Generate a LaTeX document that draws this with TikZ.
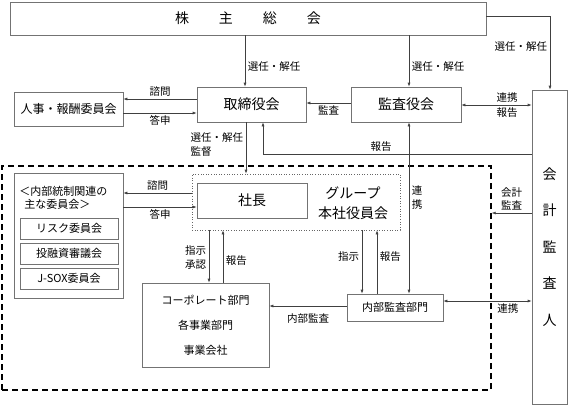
\documentclass[tikz,border=0pt]{standalone}
\usepackage{fontspec}
\setmainfont{Noto Sans CJK JP}
\usetikzlibrary{arrows.meta, positioning}

\begin{document}
\begin{tikzpicture}[x=1pt, y=-1pt, >={Latex[length=4pt,width=3pt]}, line width=0.6pt,
  box/.style={draw=black!55, rectangle, inner sep=0pt, font=\fontsize{14}{16}\selectfont},
  small/.style={font=\fontsize{11}{13}\selectfont},
  lbl/.style={font=\fontsize{10.5}{14}\selectfont, inner sep=2.5pt, align=center},
  arr/.style={->, draw=black!75},
  both/.style={<->, draw=black!75}]

\useasboundingbox (0,0) rectangle (569,405);

% Boxes at the top
\node[box, minimum width=476pt, minimum height=33pt] (gm) at (248,18.5) {株\hspace{30pt}主\hspace{30pt}総\hspace{30pt}会};
\node[box, small, font=\fontsize{12}{14}\selectfont, minimum width=109pt, minimum height=34pt] (hr) at (68.5,109) {人事・報酬委員会};
\node[box, minimum width=109pt, minimum height=35pt] (bod) at (251.5,104.5) {取締役会};
\node[box, minimum width=110pt, minimum height=35pt] (kab) at (406,104.5) {監査役会};
\node[box, align=center, font=\fontsize{14}{36.5}\selectfont, minimum width=35pt, minimum height=314pt] (ext) at (549.5,247) {会\\計\\監\\査\\人};

% Internal control area
\node[draw, line width=1.3pt, dash pattern=on 6pt off 4pt, inner sep=0pt, minimum width=489pt, minimum height=224pt] (ic) at (246.5,278) {};
\node[draw=black!60, dotted, inner sep=0pt, minimum width=208pt, minimum height=56pt] (grp) at (296,202) {};
\node[box, minimum width=110pt, minimum height=35pt] (pres) at (252,200.5) {社長};
\node[align=center, font=\fontsize{14}{20}\selectfont] (hq) at (353,203) {グループ\\本社役員会};

% Committees
\node[box, minimum width=109pt, minimum height=125pt] (cm) at (68.5,235.5) {};
\node[small, align=left, anchor=west, inner sep=1pt] (cmh) at (18,198) {＜内部統制関連の\\\hspace{5pt}主な委員会＞};
\node[box, small, minimum width=98pt, minimum height=21pt] (risk) at (69,228.5) {リスク委員会};
\node[box, small, minimum width=98pt, minimum height=21pt, below=3.5pt of risk] (inv) {投融資審議会};
\node[box, small, minimum width=98pt, minimum height=21pt, below=3.5pt of inv] (jsox) {J-SOX委員会};

% Lower boxes
\node[box, align=center, font=\fontsize{11}{25}\selectfont, minimum width=127pt, minimum height=84pt] (corp) at (205.5,325) {コーポレート部門\\各事業部門\\事業会社};
\node[box, small, minimum width=96pt, minimum height=27pt] (ia) at (395,307.5) {内部監査部門};

% From the general meeting
\draw[arr] ([xshift=-6.5pt]bod.north |- gm.south) -- node[lbl, right, pos=0.6] {選任・解任} ([xshift=-6.5pt]bod.north);
\draw[arr] ([xshift=3pt]kab.north |- gm.south) -- node[lbl, right, pos=0.6] {選任・解任} ([xshift=3pt]kab.north);
\draw[arr] ([yshift=2.5pt]gm.east) -| node[lbl, left, pos=0.71] {選任・解任} ([xshift=0.5pt]ext.north);

% Board and committees
\draw[arr] ([yshift=5.5pt]bod.west) -- node[lbl, above] {諮問} ([yshift=5.5pt]bod.west -| hr.east);
\draw[arr] ([yshift=-4pt]hr.east) -- node[lbl, below] {答申} ([yshift=-4pt]hr.east -| bod.west);
\draw[arr] ([yshift=1.5pt]kab.west) -- node[lbl, below] {監査} ([yshift=1.5pt]kab.west -| bod.east);
\draw[both] ([yshift=-0.5pt]kab.east) -- node[lbl, above, pos=0.65] {連携} node[lbl, below, pos=0.65] {報告} ([yshift=-0.5pt]kab.east -| ext.west);
\draw[arr] ([yshift=93pt]ext.west) -| node[lbl, above, pos=0.28] {報告} ([xshift=11.5pt]bod.south);
\draw[arr] ([xshift=-5.5pt]bod.south) -- node[lbl, left, align=left, pos=0.44] {選任・解任\\監督} ([xshift=-5.5pt]bod.south |- grp.north);

% President and committees
\draw[arr] ([yshift=9pt]grp.west) -- node[lbl, above] {諮問} ([yshift=9pt]grp.west -| cm.east);
\draw[arr] ([yshift=-6.5pt]pres.west -| cm.east) -- node[lbl, below] {答申} ([yshift=-6.5pt]pres.west);

% Group and departments
\draw[arr] ([xshift=3.5pt]corp.north |- grp.south) -- node[lbl, left, pos=0.52] {指示\\承認} ([xshift=3.5pt]corp.north);
\draw[arr] ([xshift=17.5pt]corp.north) -- node[lbl, right, pos=0.43] {報告} ([xshift=17.5pt]corp.north |- grp.south);
\draw[arr] ([xshift=-33pt]ia.north |- grp.south) -- node[lbl, left, pos=0.42] {指示} ([xshift=-33pt]ia.north);
\draw[arr] ([xshift=-18pt]ia.north) -- node[lbl, right, pos=0.58] {報告} ([xshift=-18pt]ia.north |- grp.south);
\draw[both] ([xshift=3pt]kab.south) -- node[lbl, right, pos=0.44] {連\\携} ([xshift=3pt]kab.south |- ia.north);
\draw[arr] ([yshift=1.5pt]ia.west) -- node[lbl, below=5pt] {内部監査} ([yshift=1.5pt]ia.west -| corp.east);
\draw[both] ([yshift=6.5pt]ia.east) -- node[lbl, below, pos=0.73] {連携} ([yshift=6.5pt]ia.east -| ext.west);
\draw[arr] ([yshift=34pt]ext.west) -- node[lbl, above, font=\fontsize{10.5}{13}\selectfont] {会計\\監査} ([yshift=34pt]ext.west -| ic.east);

\end{tikzpicture}
\end{document}
